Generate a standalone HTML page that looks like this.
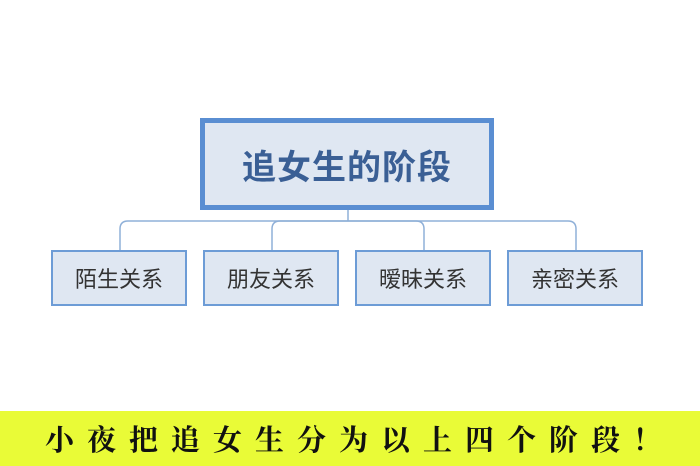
<!DOCTYPE html>
<html><head><meta charset="utf-8"><style>
body{margin:0;width:700px;height:466px;background:#fff;position:relative;overflow:hidden;font-family:"Liberation Sans","Noto Sans CJK SC",sans-serif}
.main{position:absolute;left:200px;top:118px;width:284px;height:82px;border:5px solid #5a8ed2;background:#dfe7f2;color:#3a5f95;font-weight:bold;font-size:34px;display:flex;align-items:center;justify-content:center;letter-spacing:1px}
.c{position:absolute;top:250px;width:132px;height:52px;border:2px solid #6d9cd6;background:#dfe7f2;color:#333;font-size:22px;display:flex;align-items:center;justify-content:center}
.band{position:absolute;left:0;top:411px;width:700px;height:55px;background:#e9fb37;font-family:"Noto Serif CJK SC","WenQuanYi Zen Hei",serif;font-size:29px;font-weight:bold;color:#111;letter-spacing:13px;padding-left:45px;box-sizing:border-box;line-height:55px;white-space:nowrap}
</style></head><body>
<svg width="700" height="466" style="position:absolute;left:0;top:0">
<g fill="none" stroke="#8fb0d8" stroke-width="1.5">
<line x1="348" y1="210" x2="348" y2="221"/>
<path d="M120 250 V229 Q120 221 128 221 H568 Q576 221 576 229 V250"/>
<path d="M272 250 V229 Q272 221 280 221 H416 Q424 221 424 229 V250"/>
</g>
</svg>
<div class="main">追女生的阶段</div>
<div class="c" style="left:51px">陌生关系</div>
<div class="c" style="left:203px">朋友关系</div>
<div class="c" style="left:355px">暧昧关系</div>
<div class="c" style="left:507px">亲密关系</div>
<div class="band">小夜把追女生分为以上四个阶段！</div>
</body></html>
